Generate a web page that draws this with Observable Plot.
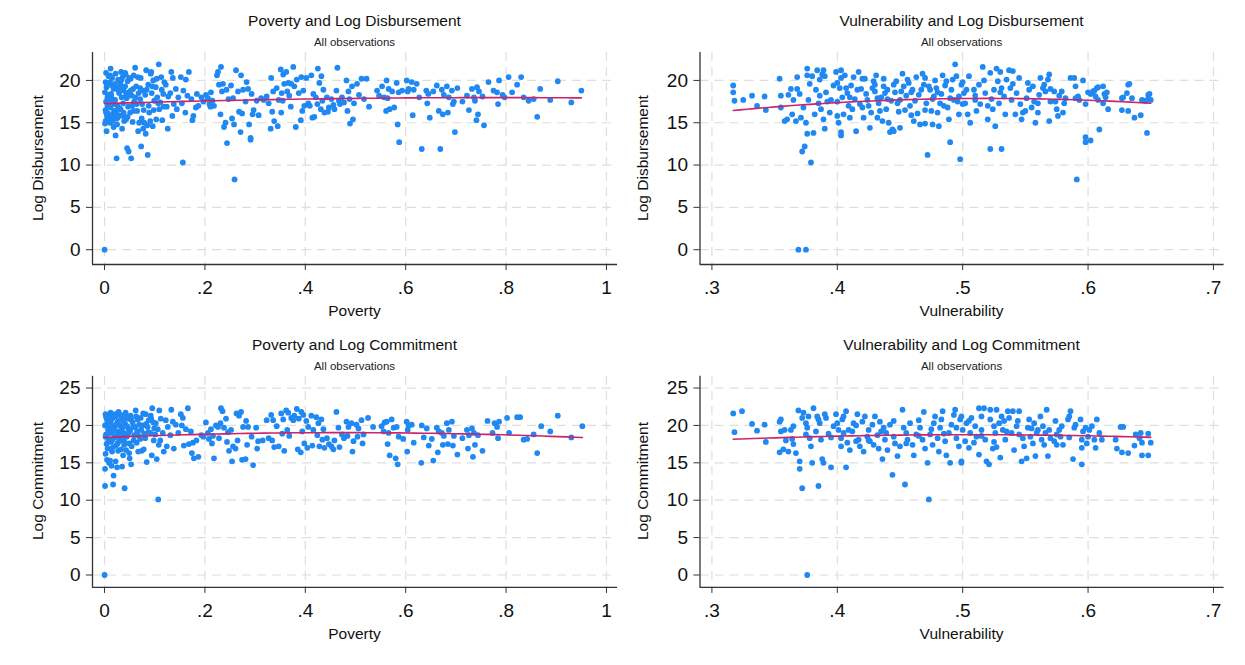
<!DOCTYPE html>
<html><head><meta charset="utf-8">
<script src="https://cdn.jsdelivr.net/npm/d3@7"></script>
<script src="https://cdn.jsdelivr.net/npm/@observablehq/plot@0.6"></script>
<style>
body{margin:0;background:#fff}
#root{position:relative;width:1245px;height:665px;overflow:hidden;background:#fff;font-family:"Liberation Sans",Arial,sans-serif;color:#111}
.t{position:absolute;white-space:nowrap;transform:translate(-50%,-50%);line-height:1}
.panel{position:absolute}
svg.panel text{font-size:19px;fill:#111}
</style></head><body><div id="root"></div>
<script>
// ---------- data ----------
const povertyTicks = [0, 0.2, 0.4, 0.6, 0.8, 1];
const povertyTickLabels = ["0", ".2", ".4", ".6", ".8", "1"];
const vulnTicks = [0.3, 0.4, 0.5, 0.6, 0.7];
const vulnTickLabels = [".3", ".4", ".5", ".6", ".7"];
const disbTicks = [0, 5, 10, 15, 20];
const commitTicks = [0, 5, 10, 15, 20, 25];

const povertyDisbursement = [
[0.002,19.8],[0.004,19.2],[0.001,18.6],[0.006,18.0],[0.003,17.5],[0.008,17.0],[0.002,16.5],[0.005,15.8],[0.009,15.3],[0.001,14.9],[0.004,14.0],[0.007,18.3],[0.003,16.2],[0.006,15.5],[0.0,0.0],[0.008,20.5],[0.005,19.5],
[0.012,21.4],[0.015,20.3],[0.011,19.8],[0.018,19.0],[0.013,18.4],[0.016,17.8],[0.019,17.2],[0.012,16.8],[0.017,16.0],[0.014,15.6],[0.011,15.0],[0.018,14.5],[0.015,19.4],[0.013,18.1],
[0.022,20.8],[0.027,20.1],[0.024,19.1],[0.029,18.5],[0.021,17.7],[0.026,17.0],[0.023,16.4],[0.028,15.9],[0.025,14.8],[0.022,13.5],[0.024,10.8],[0.027,18.9],
[0.033,21.0],[0.036,20.4],[0.031,19.6],[0.038,18.8],[0.034,18.0],[0.037,17.3],[0.032,16.6],[0.039,15.2],[0.035,14.3],[0.033,20.0],
[0.042,20.7],[0.046,19.9],[0.041,19.3],[0.048,18.6],[0.044,17.9],[0.047,16.9],[0.043,15.4],[0.045,12.0],[0.048,11.6],[0.041,20.9],
[0.052,20.2],[0.057,19.0],[0.054,18.2],[0.059,17.5],[0.051,16.2],[0.056,15.1],[0.053,10.8],[0.058,20.6],
[0.061,21.5],[0.066,20.4],[0.063,19.3],[0.068,18.5],[0.064,17.2],[0.069,15.0],[0.067,14.0],
[0.072,20.3],[0.076,18.8],[0.071,17.8],[0.078,16.5],[0.074,15.5],[0.077,14.3],[0.073,12.2],
[0.083,21.2],[0.087,19.5],[0.081,18.3],[0.088,17.0],[0.085,14.7],[0.082,13.7],[0.086,11.2],
[0.092,20.8],[0.097,20.0],[0.094,18.5],[0.099,17.6],[0.091,15.2],[0.096,14.6],[0.093,21.0],
[0.108,21.9],[0.102,19.2],[0.105,18.0],[0.109,16.6],[0.103,15.4],
[0.113,20.4],[0.117,18.4],[0.111,17.4],[0.115,15.3],[0.119,19.8],
[0.122,19.5],[0.127,18.1],[0.124,16.9],[0.126,14.3],
[0.133,21.0],[0.136,20.3],[0.131,18.5],[0.138,17.2],[0.135,15.8],
[0.142,19.0],[0.147,18.0],[0.144,16.6],
[0.152,20.4],[0.157,18.8],[0.154,17.3],[0.156,10.3],
[0.168,21.0],[0.162,20.1],[0.165,18.2],[0.161,16.2],
[0.173,17.8],[0.177,15.8],[0.175,15.3],
[0.184,18.4],[0.187,17.0],[0.182,16.8],
[0.193,18.0],[0.197,17.5],
[0.202,18.3],[0.206,17.9],[0.209,17.2],
[0.212,18.6],[0.215,17.6],[0.218,17.0],[0.211,16.9],
[0.224,20.6],[0.228,19.5],[0.226,21.0],
[0.232,21.6],[0.236,19.6],[0.234,18.7],[0.231,16.0],[0.238,14.5],
[0.243,18.9],[0.247,17.8],[0.241,15.0],[0.244,12.6],
[0.252,19.4],[0.256,17.9],[0.254,15.5],[0.258,14.8],
[0.262,21.2],[0.266,18.7],[0.268,16.3],[0.259,8.3],
[0.272,20.6],[0.276,18.9],[0.274,16.1],[0.271,13.9],
[0.283,19.8],[0.286,19.0],[0.281,17.5],[0.288,14.8],
[0.293,18.4],[0.297,16.5],[0.295,16.0],[0.291,13.2],[0.291,13.0],
[0.303,17.6],[0.307,15.9],
[0.312,17.9],[0.317,17.7],
[0.323,18.1],[0.327,17.3],
[0.332,20.3],[0.336,18.7],[0.334,16.3],[0.338,15.2],[0.331,14.3],
[0.343,19.1],[0.347,17.7],[0.345,14.6],
[0.351,21.3],[0.356,20.7],[0.358,19.6],[0.353,18.5],[0.355,17.6],[0.352,16.2],
[0.362,21.0],[0.366,19.7],[0.364,18.7],[0.368,18.2],
[0.376,21.6],[0.372,19.6],[0.378,19.3],[0.371,16.9],
[0.383,20.1],[0.387,18.5],[0.381,14.5],
[0.392,20.4],[0.396,18.8],[0.398,17.0],[0.394,16.4],[0.391,15.3],
[0.402,20.3],[0.406,17.3],[0.409,17.0],
[0.412,20.6],[0.416,18.4],[0.414,15.6],[0.418,15.7],
[0.425,21.4],[0.428,19.7],[0.421,18.0],[0.424,17.2],
[0.432,20.5],[0.436,18.9],[0.434,17.6],[0.438,16.2],[0.431,16.6],
[0.443,18.0],[0.447,16.8],[0.445,16.3],
[0.452,17.8],[0.456,17.1],[0.458,16.6],
[0.464,21.5],[0.462,18.8],[0.467,17.6],[0.469,17.2],
[0.473,18.0],[0.477,17.4],
[0.482,20.0],[0.486,18.7],[0.488,17.8],[0.484,16.4],[0.489,14.9],
[0.493,19.3],[0.497,17.3],[0.495,15.4],
[0.503,19.6],[0.507,18.3],
[0.512,20.2],[0.517,17.8],
[0.522,20.2],[0.527,16.9],
[0.543,18.8],[0.547,18.2],
[0.553,19.3],[0.557,18.0],
[0.562,20.0],[0.566,19.0],[0.564,17.9],[0.568,16.6],[0.561,16.4],
[0.573,18.7],[0.577,16.8],
[0.582,19.7],[0.586,18.6],[0.584,14.8],
[0.593,18.8],[0.587,12.7],
[0.602,20.0],[0.606,19.0],[0.604,18.7],
[0.612,19.8],[0.616,18.9],[0.614,15.9],
[0.622,19.6],[0.627,18.0],
[0.632,11.9],
[0.641,18.8],[0.645,18.4],[0.643,17.3],[0.648,15.6],
[0.655,18.7],
[0.662,19.4],[0.666,16.4],
[0.672,18.9],[0.676,18.3],[0.674,16.0],[0.669,11.9],
[0.682,19.3],[0.686,18.0],[0.684,16.2],
[0.692,18.8],[0.696,17.5],[0.694,17.2],
[0.703,19.1],[0.698,13.9],
[0.713,17.5],
[0.722,18.2],[0.726,16.5],
[0.732,19.0],[0.736,18.0],[0.738,17.6],
[0.742,19.2],[0.746,18.7],[0.744,16.0],[0.741,15.3],
[0.753,18.1],[0.756,14.7],
[0.765,19.8],
[0.775,18.8],
[0.782,18.6],[0.784,17.2],[0.786,20.0],
[0.793,18.3],[0.797,18.0],
[0.805,20.4],
[0.812,18.6],
[0.822,19.5],
[0.83,20.4],[0.835,18.0],
[0.845,17.6],
[0.855,17.8],
[0.862,15.7],
[0.868,19.0],
[0.888,17.7],
[0.903,19.9],
[0.93,17.4],
[0.95,18.8],
[0.003,20.9],[0.006,16.9],[0.009,17.8],[0.002,15.2],[0.007,16.1],[0.011,20.6],[0.014,17.5],[0.019,16.4],[0.016,15.2],[0.021,19.6],[0.026,15.6],[0.029,16.7],[0.024,15.5],[0.032,19.3],[0.036,15.8],[0.038,16.2],[0.043,18.3],[0.046,15.7],[0.049,20.3],[0.052,18.8],[0.055,17.0],[0.058,16.4],[0.062,18.0],[0.065,16.4],[0.071,19.1],[0.075,17.2],[0.079,15.0],[0.084,18.9],[0.089,16.2],[0.095,19.3],[0.098,16.5],[0.104,20.2],[0.107,17.3],[0.114,18.9],[0.118,16.9]
];

const vulnerabilityDisbursement = [
[0.317,19.4],[0.317,18.6],[0.318,17.6],[0.325,17.7],[0.332,18.2],[0.336,17.0],[0.342,18.1],[0.343,16.5],[0.354,20.2],[0.355,18.2],[0.355,16.8],[0.358,15.2],[0.36,15.4],[0.363,19.0],[0.368,19.0],[0.365,17.7],[0.368,20.4],[0.367,15.2],[0.371,15.6],[0.372,11.6],[0.374,12.2],[0.376,21.4],[0.376,20.6],[0.375,15.0],[0.376,13.7],[0.377,17.7],[0.379,10.3],[0.381,13.8],[0.38,20.5],[0.384,21.2],[0.386,20.1],[0.388,20.7],[0.389,21.2],[0.39,20.5],[0.383,18.9],[0.386,18.2],[0.387,16.6],[0.389,15.4],[0.39,14.3],[0.392,17.5],[0.395,17.7],[0.399,21.0],[0.403,21.2],[0.4,19.7],[0.402,19.1],[0.403,20.3],[0.4,17.5],[0.4,15.8],[0.401,15.0],[0.403,13.9],[0.403,13.5],[0.405,16.0],[0.407,19.1],[0.408,18.5],[0.409,17.0],[0.41,15.6],[0.413,20.4],[0.416,18.9],[0.417,21.0],[0.418,17.2],[0.42,20.2],[0.421,15.6],[0.422,20.2],[0.424,17.7],[0.425,17.0],[0.426,14.4],[0.428,19.1],[0.429,19.9],[0.43,18.7],[0.432,17.9],[0.433,17.3],[0.434,16.4],[0.436,15.2],[0.437,20.2],[0.437,19.3],[0.438,18.5],[0.44,17.8],[0.441,15.0],[0.442,13.9],[0.444,14.2],[0.445,19.5],[0.446,18.6],[0.448,17.3],[0.45,14.4],[0.452,20.8],[0.453,19.3],[0.455,18.2],[0.457,19.7],[0.458,17.0],[0.461,15.2],[0.463,20.4],[0.465,18.3],[0.466,14.8],[0.468,20.8],[0.469,19.5],[0.471,17.3],[0.472,11.2],[0.474,18.9],[0.475,16.4],[0.476,14.8],[0.477,18.1],[0.478,20.0],[0.479,19.1],[0.481,14.6],[0.482,17.3],[0.484,20.6],[0.485,17.0],[0.487,19.9],[0.489,15.4],[0.49,12.7],[0.491,18.9],[0.493,17.7],[0.494,21.9],[0.495,20.5],[0.497,18.1],[0.497,16.0],[0.498,10.7],[0.499,19.5],[0.5,17.2],[0.503,18.9],
[0.361,18.3],[0.364,16.0],[0.37,18.4],[0.373,16.8],[0.378,19.6],[0.382,16.0],[0.385,17.3],[0.391,18.6],[0.394,16.2],[0.397,19.4],[0.404,18.0],[0.406,20.6],[0.411,19.4],[0.412,16.6],[0.414,17.8],[0.419,19.0],[0.423,18.4],[0.427,16.2],[0.431,20.6],[0.435,18.0],[0.439,16.6],[0.443,17.6],[0.447,19.9],[0.449,16.3],[0.451,18.7],[0.454,16.5],[0.456,20.1],[0.459,18.6],[0.462,17.6],[0.464,16.1],[0.467,18.9],[0.47,16.5],[0.473,19.3],[0.476,17.8],[0.48,16.2],[0.483,18.4],[0.486,19.4],[0.488,16.8],[0.492,20.1],[0.496,17.5],[0.47,14.9],[0.415,14.0],[0.432,15.6],[0.459,15.9],[0.445,14.0],
[0.501,18.5],[0.502,17.3],[0.504,16.0],[0.505,20.5],[0.506,15.0],[0.509,18.9],[0.51,17.7],[0.511,16.4],[0.513,19.5],[0.514,17.2],[0.516,21.6],[0.517,20.0],[0.518,18.5],[0.52,15.4],[0.522,11.9],[0.522,20.9],[0.523,17.8],[0.524,16.6],[0.525,18.9],[0.526,14.6],[0.527,21.4],[0.528,19.9],[0.529,17.3],[0.53,21.0],[0.531,11.9],[0.531,19.1],[0.533,18.1],[0.534,16.0],[0.535,20.1],[0.537,21.2],[0.538,19.1],[0.539,17.7],[0.54,21.1],[0.542,16.0],[0.543,18.5],[0.545,20.3],[0.546,17.2],[0.547,15.4],[0.548,16.2],[0.551,17.9],[0.552,19.7],[0.553,18.9],[0.555,16.8],[0.556,19.3],[0.557,17.5],[0.558,15.0],[0.56,16.2],[0.561,18.3],[0.562,20.3],[0.564,19.1],[0.565,19.5],[0.566,18.7],[0.568,20.1],[0.569,20.7],[0.569,15.2],[0.57,17.5],[0.573,18.7],[0.574,17.5],[0.575,16.6],[0.576,15.8],[0.577,18.2],[0.579,18.7],[0.581,17.3],[0.582,17.9],[0.586,20.3],[0.589,20.3],[0.59,19.3],[0.591,8.3],[0.592,18.1],[0.593,17.7],[0.596,20.0],[0.598,13.3],[0.598,12.7],[0.598,17.2],[0.6,18.6],[0.602,12.9],[0.604,18.7],[0.606,18.1],[0.607,19.1],[0.608,17.7],[0.609,14.2],[0.612,19.3],[0.612,17.3],[0.613,18.4],[0.616,16.6],[0.627,17.9],[0.627,16.5],[0.631,18.5],[0.632,19.5],[0.632,16.4],[0.635,17.9],[0.637,15.6],[0.642,15.9],[0.643,17.7],[0.646,17.6],[0.647,13.8],[0.648,18.3],[0.648,17.8],
[0.41,18.0],[0.42,16.8],[0.43,19.5],[0.44,18.9],[0.45,17.7],[0.46,18.9],[0.47,20.3],[0.48,18.6],[0.49,17.9],[0.50,19.8],[0.51,18.2],[0.52,17.0],[0.53,18.6],[0.54,19.6],[0.55,16.4],[0.56,17.3],[0.57,19.0],[0.58,16.2],[0.59,17.9],
[0.602,18.4],[0.605,18.8],[0.608,19.2],[0.614,18.0],[0.615,18.6],[0.628,18.0],[0.633,19.6],[0.649,18.4],[0.65,17.7],
[0.369,0.0],[0.375,0.0]
];

const povertyCommitment = [
[0.002,21.5],[0.005,20.8],[0.001,20.0],[0.007,19.4],[0.003,18.8],[0.008,18.2],[0.004,17.5],[0.006,16.9],[0.002,16.2],[0.005,15.4],[0.009,15.0],[0.001,14.2],[0.001,11.9],[0.0,0.0],[0.008,19.8],[0.004,21.0],
[0.012,21.7],[0.016,21.0],[0.011,20.3],[0.018,19.6],[0.014,19.0],[0.019,18.4],[0.013,17.8],[0.017,17.1],[0.015,16.5],[0.011,15.3],[0.014,14.6],[0.018,13.3],[0.017,12.1],[0.013,20.7],
[0.022,21.2],[0.026,20.5],[0.021,19.9],[0.028,19.2],[0.024,18.6],[0.029,17.9],[0.023,17.3],[0.027,16.6],[0.022,15.2],[0.025,14.4],[0.028,21.8],
[0.032,21.4],[0.036,20.7],[0.031,20.0],[0.038,19.0],[0.034,18.1],[0.039,17.4],[0.033,16.8],[0.037,16.0],[0.035,14.5],
[0.042,21.7],[0.046,20.9],[0.041,20.2],[0.048,19.5],[0.044,18.5],[0.049,17.6],[0.043,16.7],[0.04,11.6],[0.047,21.0],
[0.052,21.3],[0.056,20.4],[0.051,19.3],[0.058,18.0],[0.054,17.2],[0.05,15.6],[0.053,14.8],
[0.062,22.0],[0.066,20.8],[0.061,19.8],[0.068,18.6],[0.064,17.7],[0.067,16.5],
[0.072,21.0],[0.076,20.0],[0.071,18.2],[0.078,16.8],[0.074,16.6],
[0.082,21.5],[0.086,19.8],[0.081,18.3],[0.084,15.1],[0.088,20.7],
[0.095,22.3],[0.092,21.3],[0.097,20.4],[0.091,19.0],[0.098,18.0],[0.094,16.0],
[0.102,20.3],[0.106,19.5],[0.101,18.8],[0.108,17.4],[0.104,15.5],[0.107,10.1],[0.109,22.0],
[0.112,20.9],[0.116,19.0],[0.111,18.0],[0.118,16.5],
[0.122,20.7],[0.126,19.8],[0.124,17.2],
[0.133,22.1],[0.136,20.5],[0.131,18.7],[0.138,16.9],
[0.142,20.1],[0.147,19.0],
[0.152,21.5],[0.156,21.0],[0.154,20.0],[0.158,17.3],
[0.166,22.3],[0.162,19.5],[0.168,17.5],
[0.172,19.2],[0.176,17.7],[0.174,16.3],[0.178,15.6],
[0.183,18.0],[0.187,15.8],
[0.193,18.7],[0.197,18.5],
[0.202,20.4],[0.206,19.0],[0.208,18.2],
[0.212,19.5],[0.216,18.6],[0.214,17.6],[0.218,15.6],
[0.222,20.0],[0.226,19.8],[0.228,18.3],
[0.232,22.3],[0.235,21.9],[0.231,20.3],[0.238,19.7],
[0.242,20.9],[0.246,19.1],[0.244,17.8],[0.248,16.6],
[0.252,19.4],[0.256,17.2],[0.254,15.2],
[0.263,21.6],[0.268,21.3],[0.265,18.0],[0.261,16.9],
[0.272,21.8],[0.276,19.8],[0.274,15.4],
[0.282,20.6],[0.286,19.8],[0.284,17.4],[0.281,15.5],
[0.293,18.5],[0.296,14.7],
[0.302,19.7],[0.306,17.9],[0.304,16.9],
[0.315,18.0],
[0.323,20.7],[0.327,18.3],
[0.332,21.4],[0.336,20.7],[0.334,18.0],[0.338,17.1],
[0.343,19.9],[0.347,17.2],
[0.352,21.6],[0.356,20.8],[0.354,18.9],[0.358,16.6],
[0.362,22.0],[0.366,21.7],[0.364,19.4],[0.368,18.6],
[0.372,21.0],[0.376,20.7],[0.378,21.3],
[0.383,22.2],[0.387,20.9],[0.385,16.8],
[0.392,21.8],[0.396,21.4],[0.394,19.2],[0.398,17.6],[0.391,16.4],
[0.402,20.6],[0.406,19.8],[0.404,17.0],
[0.412,21.3],[0.416,19.4],[0.414,17.3],
[0.422,21.1],[0.426,20.3],[0.424,18.7],[0.428,17.2],
[0.432,20.8],[0.436,19.5],[0.434,18.1],[0.438,17.0],
[0.443,18.3],[0.447,17.5],
[0.452,17.2],[0.456,16.8],[0.458,18.0],
[0.462,21.8],[0.466,19.7],[0.468,17.1],
[0.473,18.8],[0.477,18.3],
[0.482,20.5],[0.486,19.8],[0.484,18.6],
[0.492,20.3],[0.496,17.9],[0.494,16.5],
[0.502,20.1],[0.506,19.6],[0.504,18.5],
[0.512,20.7],[0.516,18.8],[0.514,17.6],
[0.525,21.0],[0.535,19.8],
[0.552,19.9],[0.556,19.2],[0.558,20.4],
[0.562,20.5],[0.566,19.0],[0.564,17.5],[0.568,16.0],
[0.572,20.8],[0.576,19.7],
[0.582,19.8],[0.586,18.5],[0.58,15.6],[0.584,14.8],
[0.595,18.2],
[0.602,20.5],[0.606,20.0],[0.604,19.4],[0.603,16.5],
[0.612,20.1],[0.616,17.7],
[0.632,20.0],[0.636,18.4],[0.631,15.0],
[0.642,19.6],[0.646,17.3],
[0.652,18.2],[0.655,15.3],
[0.662,19.7],[0.666,19.2],[0.664,16.4],
[0.672,19.0],[0.676,18.6],[0.674,17.4],
[0.682,20.3],[0.686,19.4],[0.684,17.5],
[0.692,20.5],[0.696,18.6],[0.694,17.3],
[0.703,16.1],
[0.713,18.3],
[0.722,19.4],[0.726,18.7],[0.724,16.9],
[0.732,19.6],[0.736,19.0],[0.738,17.4],[0.734,15.8],
[0.744,18.7],
[0.753,16.6],
[0.763,20.6],
[0.773,19.0],[0.777,20.3],
[0.782,19.8],[0.784,18.3],[0.786,20.5],
[0.802,21.0],[0.806,19.0],
[0.822,21.1],[0.828,21.1],
[0.835,18.1],
[0.842,18.2],
[0.855,18.8],
[0.862,16.3],
[0.87,19.9],
[0.888,19.2],
[0.903,21.3],
[0.93,18.4],
[0.952,19.9],
[0.003,21.2],[0.006,20.4],[0.009,19.0],[0.002,18.5],[0.007,17.8],[0.012,21.3],[0.015,20.0],[0.019,19.3],[0.016,18.1],[0.013,16.9],[0.021,21.5],[0.024,20.2],[0.027,18.9],[0.029,18.3],[0.026,17.6],[0.033,21.0],[0.035,19.6],[0.037,18.6],[0.039,17.9],[0.043,21.3],[0.045,19.9],[0.047,18.9],[0.049,16.3],[0.053,20.8],[0.057,19.8],[0.059,18.7],[0.063,21.2],[0.065,19.2],[0.069,20.1],[0.073,19.4],[0.077,21.6],[0.079,18.9],[0.083,20.2],[0.087,19.1],[0.093,20.9],[0.099,19.6]
];

const vulnerabilityCommitment = [
[0.317,21.6],[0.324,21.9],[0.318,19.1],[0.332,20.2],[0.336,19.3],[0.342,20.1],[0.343,17.8],[0.354,20.5],[0.355,20.8],[0.355,19.2],[0.358,19.4],[0.354,16.4],[0.357,16.8],[0.359,18.0],[0.361,16.5],[0.363,19.4],[0.364,18.2],[0.365,19.9],[0.367,16.3],[0.369,22.0],[0.37,15.2],[0.37,14.2],[0.372,11.6],[0.372,21.0],[0.373,21.7],[0.375,20.3],[0.376,19.7],[0.377,21.2],[0.378,18.3],[0.379,17.2],[0.38,15.0],[0.381,22.3],[0.383,19.2],[0.384,21.2],[0.385,11.9],[0.386,20.3],[0.387,18.1],[0.388,15.5],[0.389,15.0],[0.39,21.5],[0.391,21.0],[0.393,18.9],[0.395,14.4],[0.397,19.9],[0.399,21.5],[0.4,20.3],[0.401,19.4],[0.403,17.2],[0.403,18.3],[0.404,20.8],[0.405,21.2],[0.407,21.9],[0.407,14.4],[0.408,17.7],[0.409,19.4],[0.41,16.7],[0.412,19.2],[0.413,20.3],[0.415,17.9],[0.416,21.5],[0.417,18.1],[0.418,17.2],[0.42,20.5],[0.421,16.5],[0.422,21.2],[0.424,18.5],[0.425,19.4],[0.426,17.9],[0.428,20.1],[0.429,17.4],[0.43,21.2],[0.432,18.7],[0.433,16.9],[0.434,20.5],[0.436,15.5],[0.437,19.7],[0.438,18.1],[0.439,19.0],[0.44,16.7],[0.442,20.1],[0.444,13.4],[0.445,18.5],[0.446,17.6],[0.448,15.9],[0.45,17.2],[0.452,22.1],[0.453,19.7],[0.454,12.1],[0.455,19.0],[0.456,18.1],[0.458,20.3],[0.46,17.4],[0.461,16.0],[0.463,18.8],[0.465,20.7],[0.466,19.7],[0.468,18.1],[0.469,21.8],[0.47,16.9],[0.472,15.0],[0.473,10.1],[0.474,18.8],[0.476,17.4],[0.477,20.3],[0.478,21.2],[0.48,18.3],[0.481,16.5],[0.482,19.7],[0.483,20.8],[0.484,21.9],[0.486,17.9],[0.487,16.0],[0.489,19.0],[0.49,15.0],[0.491,20.1],[0.493,21.4],[0.494,22.1],[0.495,18.3],[0.497,17.2],[0.498,20.8],[0.499,15.2],
[0.499,21.2],[0.5,19.4],[0.502,17.9],[0.503,20.3],[0.505,17.0],[0.499,15.0],[0.506,19.0],[0.507,21.0],[0.509,17.7],[0.51,19.9],[0.511,18.5],[0.513,22.3],[0.513,16.1],[0.515,19.4],[0.515,21.2],[0.517,22.3],[0.518,18.1],[0.519,15.2],[0.521,14.8],[0.522,20.8],[0.522,22.1],[0.524,16.9],[0.525,19.9],[0.526,19.0],[0.527,22.1],[0.527,17.1],[0.529,20.3],[0.53,15.7],[0.531,21.2],[0.532,19.4],[0.533,20.6],[0.534,18.1],[0.536,21.9],[0.537,21.0],[0.539,19.0],[0.54,21.9],[0.541,16.7],[0.543,19.9],[0.544,20.6],[0.545,21.9],[0.547,15.2],[0.548,18.3],[0.549,17.2],[0.551,15.6],[0.552,19.7],[0.553,20.8],[0.554,18.5],[0.556,17.6],[0.557,20.3],[0.558,15.9],[0.559,19.0],[0.56,19.4],[0.562,21.2],[0.563,18.1],[0.564,19.9],[0.566,19.0],[0.567,22.1],[0.568,15.9],[0.569,19.4],[0.57,18.3],[0.573,17.9],[0.574,20.6],[0.575,17.4],[0.577,19.4],[0.578,18.5],[0.579,19.9],[0.58,17.4],[0.584,20.8],[0.585,21.2],[0.586,21.9],[0.588,15.5],[0.589,19.7],[0.59,20.1],[0.594,20.8],[0.595,14.8],[0.595,18.1],[0.596,19.2],[0.598,19.7],[0.599,17.6],[0.6,18.5],[0.601,19.4],[0.603,19.9],[0.605,18.1],[0.606,17.0],[0.607,20.8],[0.609,19.0],[0.611,18.1],[0.622,18.1],[0.623,16.9],[0.626,19.8],[0.628,19.8],[0.627,16.4],[0.632,16.3],[0.637,17.3],[0.638,18.8],[0.642,19.0],[0.643,16.0],[0.643,17.7],[0.641,18.3],
[0.405,19.0],[0.415,20.0],[0.425,18.0],[0.435,19.2],[0.445,20.6],[0.455,17.6],[0.465,18.6],[0.475,19.5],[0.485,18.9],[0.495,19.7],[0.505,20.6],[0.515,18.6],[0.525,17.8],[0.535,19.2],[0.545,18.8],[0.555,19.6],[0.565,17.4],[0.575,18.8],[0.585,18.4],[0.595,17.0],[0.365,17.5],[0.375,18.8],[0.385,20.8],[0.395,18.4],
[0.648,18.9],[0.65,17.7],[0.648,16.0],
[0.376,0.0]
];

// ---------- helpers ----------
function qfit(pts) {
  const s = [0,0,0,0,0], t = [0,0,0];
  for (const [x, y] of pts) {
    let p = 1;
    for (let k = 0; k < 5; k++) { s[k] += p; if (k < 3) t[k] += p * y; p *= x; }
  }
  const A = [[s[0],s[1],s[2],t[0]],[s[1],s[2],s[3],t[1]],[s[2],s[3],s[4],t[2]]];
  for (let i = 0; i < 3; i++) {
    for (let j = i + 1; j < 3; j++) {
      const f = A[j][i] / A[i][i];
      for (let k = i; k < 4; k++) A[j][k] -= f * A[i][k];
    }
  }
  const c = [0,0,0];
  for (let i = 2; i >= 0; i--) {
    let v = A[i][3];
    for (let k = i + 1; k < 3; k++) v -= A[i][k] * c[k];
    c[i] = v / A[i][i];
  }
  const [lo, hi] = d3.extent(pts, d => d[0]);
  return d3.range(61).map(i => { const x = lo + (hi - lo) * i / 60; return {x, y: c[0] + c[1]*x + c[2]*x*x}; });
}

const root = document.getElementById("root");
function label(text, cx, cy, size, rotate, color) {
  const d = document.createElement("div");
  d.className = "t";
  d.textContent = text;
  d.style.left = cx + "px"; d.style.top = cy + "px";
  d.style.fontSize = size + "px";
  d.style.color = color || "#111";
  if (rotate) d.style.transform = "translate(-50%,-50%) rotate(-90deg)";
  root.appendChild(d);
}

const DOT = "#1f88f2", FIT = "#cc2468", GRID = "#dedede", AX = "#333";

function panel(cfg) {
  const fit = qfit(cfg.data);
  const fmt = v => { const i = cfg.xTicks.findIndex(t => Math.abs(t - v) < 1e-9); return i >= 0 ? cfg.xLabels[i] : ""; };
  const chart = Plot.plot({
    width: cfg.w, height: cfg.h,
    marginLeft: cfg.ml, marginRight: cfg.mr, marginTop: cfg.mt, marginBottom: cfg.mb,
    style: {fontFamily: '"Liberation Sans", Arial, sans-serif', fontSize: "19px", color: "#111", background: "transparent", overflow: "visible"},
    x: {domain: cfg.xDomain},
    y: {domain: cfg.yDomain},
    marks: [
      Plot.gridX(cfg.xTicks, {stroke: GRID, strokeOpacity: 1, strokeWidth: 1.2, strokeDasharray: "9,6"}),
      Plot.gridY(cfg.yTicks, {stroke: GRID, strokeOpacity: 1, strokeWidth: 1.2, strokeDasharray: "9,6"}),
      Plot.dot(cfg.data, {x: d => d[0], y: d => d[1], r: 2.9, fill: DOT}),
      Plot.line(fit, {x: "x", y: "y", stroke: FIT, strokeWidth: 1.6}),
      Plot.ruleY([cfg.yDomain[0]], {stroke: AX, strokeWidth: 1.3}),
      Plot.ruleX([cfg.xDomain[0]], {stroke: AX, strokeWidth: 1.3}),
      Plot.axisX(cfg.xTicks, {tickFormat: fmt, tickSize: 6, tickPadding: 10, stroke: AX, label: null, fontSize: 19}),
      Plot.axisY(cfg.yTicks, {tickSize: 6, tickPadding: 6, stroke: AX, label: null, fontSize: 19})
    ]
  });
  chart.classList.add("panel");
  chart.style.left = cfg.left + "px";
  chart.style.top = cfg.top + "px";
  root.appendChild(chart);
  const cx = cfg.left + cfg.ml + (cfg.w - cfg.ml - cfg.mr) / 2;
  const cy = cfg.top + cfg.mt + (cfg.h - cfg.mt - cfg.mb) / 2;
  label(cfg.title, cx, cfg.titleY, 15.5);
  label("All observations", cx, cfg.titleY + 21.5, 11.5, false, "#222");
  label(cfg.xTitle, cx, cfg.xTitleY, 15.5);
  label(cfg.yTitle, cfg.yTitleX, cy, 15.5, true);
}

const povDom = [-0.024, 1.022], vulDom = [0.2905, 0.7085];
panel({data: povertyDisbursement, left: 0, top: 0, w: 622, h: 330, ml: 92, mr: 5, mt: 52, mb: 66,
  xDomain: povDom, yDomain: [-1.75, 23.3], xTicks: povertyTicks, xLabels: povertyTickLabels, yTicks: disbTicks,
  title: "Poverty and Log Disbursement", xTitle: "Poverty", yTitle: "Log Disbursement", titleY: 21, xTitleY: 311, yTitleX: 37.5});
panel({data: vulnerabilityDisbursement, left: 620, top: 0, w: 625, h: 330, ml: 79.5, mr: 21.4, mt: 52, mb: 66,
  xDomain: vulDom, yDomain: [-1.75, 23.3], xTicks: vulnTicks, xLabels: vulnTickLabels, yTicks: disbTicks,
  title: "Vulnerability and Log Disbursement", xTitle: "Vulnerability", yTitle: "Log Disbursement", titleY: 21, xTitleY: 311, yTitleX: 643});
panel({data: povertyCommitment, left: 0, top: 330, w: 622, h: 335, ml: 92, mr: 5, mt: 45.8, mb: 78.1,
  xDomain: povDom, yDomain: [-1.66, 26.57], xTicks: povertyTicks, xLabels: povertyTickLabels, yTicks: commitTicks,
  title: "Poverty and Log Commitment", xTitle: "Poverty", yTitle: "Log Commitment", titleY: 345, xTitleY: 633.5, yTitleX: 37.5});
panel({data: vulnerabilityCommitment, left: 620, top: 330, w: 625, h: 335, ml: 79.5, mr: 21.4, mt: 45.8, mb: 78.1,
  xDomain: vulDom, yDomain: [-1.66, 26.57], xTicks: vulnTicks, xLabels: vulnTickLabels, yTicks: commitTicks,
  title: "Vulnerability and Log Commitment", xTitle: "Vulnerability", yTitle: "Log Commitment", titleY: 345, xTitleY: 633.5, yTitleX: 643});
</script></body></html>
